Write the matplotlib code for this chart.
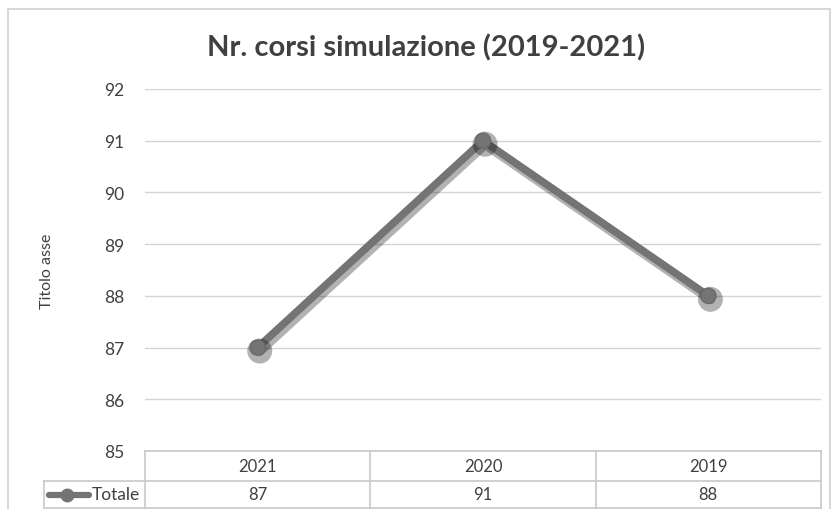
import matplotlib
matplotlib.use("Agg")
import matplotlib.pyplot as plt
import matplotlib.patheffects as pe
from matplotlib.lines import Line2D
from matplotlib.patches import Rectangle

categories = ["2021", "2020", "2019"]
totale = [87, 91, 88]
series_name = "Totale"
y_ticks = [85, 86, 87, 88, 89, 90, 91, 92]
title = "Nr. corsi simulazione (2019-2021)"
y_label = "Titolo asse"

W, H = 831, 510
fig = plt.figure(figsize=(W / 100, H / 100), dpi=100)
plt.rcParams["font.family"] = ["Lato", "DejaVu Sans"]
TXT = "#404040"

def fx(px):
    return px / W

def fy(py):
    return 1 - py / H

# chart frame
fig.patches.append(Rectangle((fx(8), fy(520)), fx(822), (520 - 10) / H,
                             transform=fig.transFigure, fill=False,
                             edgecolor="#d0d0d0", linewidth=1.2))

left, right, top, bottom = 145, 821, 90, 452
ax = fig.add_axes([fx(left), fy(bottom), fx(right - left), (bottom - top) / H])
x = list(range(len(categories)))
ax.set_xlim(-0.5, len(categories) - 0.5)
ax.set_ylim(y_ticks[0], y_ticks[-1])
ax.set_yticks(y_ticks)
ax.set_yticklabels([str(v) for v in y_ticks], fontsize=12.5, color=TXT)
ax.tick_params(axis="y", length=0, pad=15)
ax.tick_params(axis="x", length=0, labelbottom=False)
for s in ax.spines.values():
    s.set_visible(False)
ax.grid(axis="y", color="#d4d4d4", linewidth=1)
ax.set_axisbelow(True)

ax.plot(x, totale, color="#747474", linewidth=5.5, marker="o", markersize=11,
        markerfacecolor="#747474", markeredgecolor="#6a6a6a", solid_capstyle="round",
        path_effects=[pe.SimpleLineShadow(offset=(1.5, -2.5), shadow_color="#000000", alpha=0.3,
                                          linewidth=7),
                      pe.Normal()], zorder=3)

fig.text(fx(47), fy(271), y_label, rotation=90, ha="center", va="center",
         fontsize=11.5, color=TXT)
fig.text(fx(426), fy(48), title, ha="center", va="center", fontsize=21,
         fontweight="bold", color=TXT)

# data table below the plot
line_kw = dict(color="#c8c8c8", linewidth=1.2, transform=fig.transFigure)
row1, row2, row3 = 452, 482, 509
col_edges = [left + (right - left) * i / len(categories) for i in range(len(categories) + 1)]
fig.add_artist(Line2D([fx(left), fx(right)], [fy(row1), fy(row1)], **line_kw))
fig.add_artist(Line2D([fx(44), fx(right)], [fy(row2), fy(row2)], **line_kw))
fig.add_artist(Line2D([fx(44), fx(right)], [fy(row3), fy(row3)], **line_kw))
for cx in col_edges:
    fig.add_artist(Line2D([fx(cx), fx(cx)], [fy(row1), fy(row3)], **line_kw))
fig.add_artist(Line2D([fx(44), fx(44)], [fy(row2), fy(row3)], **line_kw))

for i, cat in enumerate(categories):
    cx = (col_edges[i] + col_edges[i + 1]) / 2
    fig.text(fx(cx), fy((row1 + row2) / 2), cat, ha="center", va="center",
             fontsize=12, color=TXT)
    fig.text(fx(cx), fy((row2 + row3) / 2), str(totale[i]), ha="center", va="center",
             fontsize=12, color=TXT)

# legend key in the table
ky = fy((row2 + row3) / 2)
fig.add_artist(Line2D([fx(49), fx(89)], [ky, ky], color="#747474", linewidth=4.5,
                      transform=fig.transFigure, solid_capstyle="round"))
fig.add_artist(Line2D([fx(67)], [ky], color="#747474", marker="o", markersize=9,
                      transform=fig.transFigure))
fig.text(fx(92), ky, series_name, ha="left", va="center", fontsize=12.5, color=TXT)

fig.savefig("out.png", dpi=100)
